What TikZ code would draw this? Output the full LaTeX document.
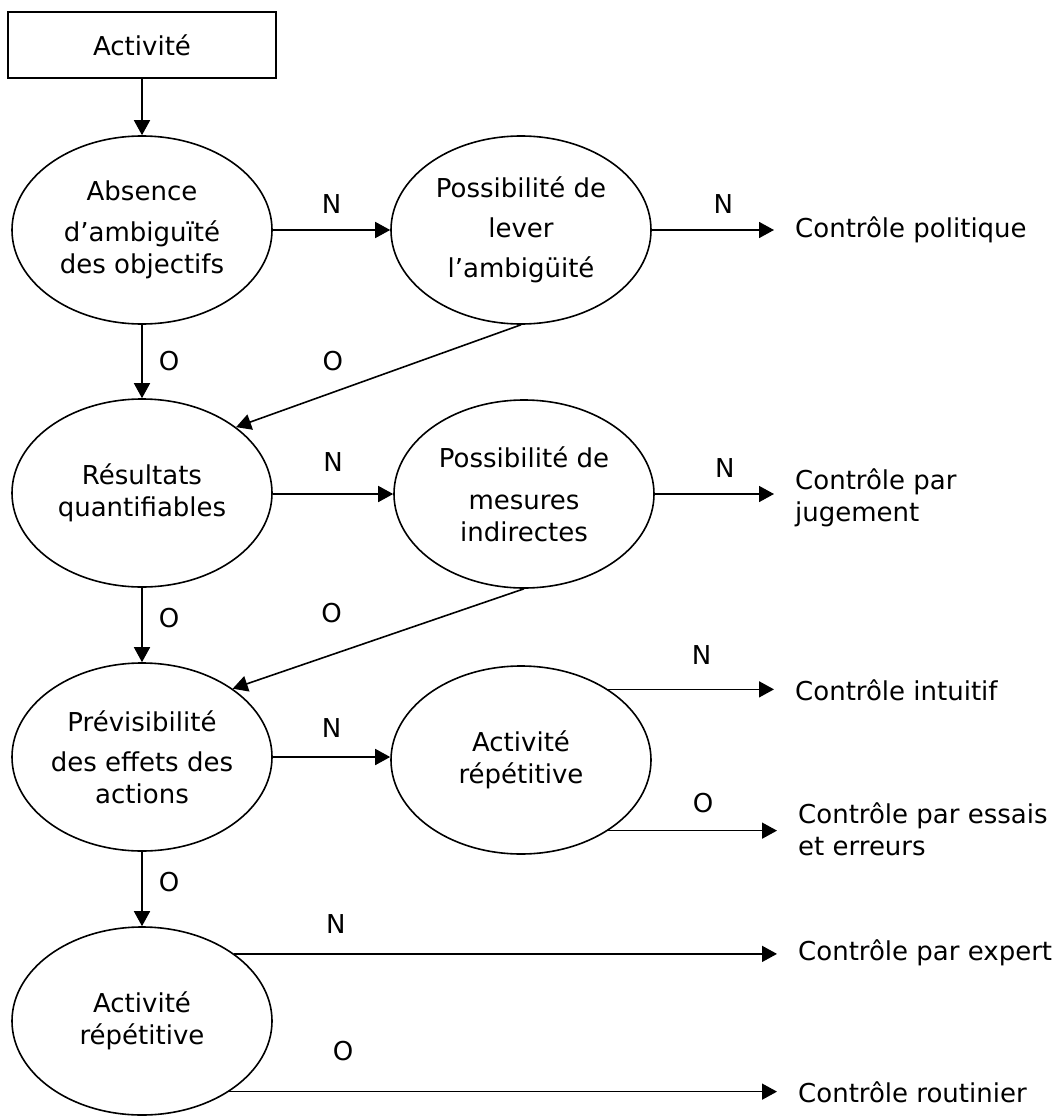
\documentclass[tikz,border=0pt]{standalone}
\usepackage{fontspec}
\setmainfont{DejaVu Sans}
\usetikzlibrary{arrows.meta}
\usetikzlibrary{shapes.geometric}

\tikzset{
	oval/.style={draw, ellipse, line width=1.6pt, minimum width=260pt, minimum height=188pt, inner sep=0pt, align=center},
	startbox/.style={draw, rectangle, line width=1.6pt, minimum width=268pt, minimum height=66pt},
	result/.style={anchor=west, inner sep=0pt, align=left},
	flow/.style={line width=1.6pt, -{Triangle[length=15pt,width=16pt]}},
	toresult/.style={flow, shorten >=21pt},
	answer/.style={inner sep=0pt}
}

\begin{document}
\begin{tikzpicture}[x=1pt, y=-1pt, every node/.style={font=\fontsize{26}{32}\selectfont}]
			\useasboundingbox (0,0) rectangle (1056,1116);
			% question column
			\node[startbox] (act) at (142,45) {Activité};
			\node[oval] (ambig) at (142,230) {Absence\\[9pt] d’ambiguïté\\ des objectifs};
			\node[oval] (quanti) at (142,493) {Résultats\\ quantifiables};
			\node[oval] (previs) at (142,757) {Prévisibilité\\[8pt] des effets des\\ actions};
			\node[oval] (routine) at (142,1021) {Activité\\ répétitive};
			% second column
			\node[oval] (lever) at (521,230) {Possibilité de\\[8pt] lever\\[8pt] l’ambigüité};
			\node[oval] (indirect) at (524,494) {Possibilité de\\[10pt] mesures\\ indirectes};
			\node[oval] (repet) at (521,760) {Activité\\ répétitive};
			% kinds of control
			\node[result] (politique) at (795,230) {Contrôle politique};
			\node[result] (jugement) at (795,498) {Contrôle par\\ jugement};
			\node[result] (intuitif) at (795,690) {Contrôle intuitif};
			\node[result] (essais) at (798,829) {Contrôle par essais\\ et erreurs};
			\node[result] (expert) at (798,953) {Contrôle par expert};
			\node[result] (routinier) at (798,1092) {Contrôle routinier};

			\draw[flow] (act.south) -- (ambig.north);
			\draw[flow] (ambig.south) -- node[answer, right=16pt] {O} (quanti.north);
			\draw[flow] (quanti.south) -- node[answer, pos=.4, right=16pt] {O} (previs.north);
			\draw[flow] (previs.south) -- node[answer, pos=.4, right=16pt] {O} (routine.north);

			\draw[flow] (ambig.east) -- node[answer, above=16pt] {N} (lever.west);
			\draw[flow] (quanti.east |- indirect.west) -- node[answer, above=22pt] {N} (indirect.west);
			\draw[flow] (previs.east -| previs.east) -- node[answer, above=19pt] {N} (previs.east -| repet.west);

			\draw[flow] (lever.south) -- node[answer, pos=.66, yshift=31pt] {O} (quanti.35);
			\draw[flow] (indirect.south) -- node[answer, pos=.66, yshift=42pt] {O} (previs.37);

			\draw[toresult] (lever.east) -- node[answer, above=16pt] {N} (lever.east -| politique.west);
			\draw[toresult] (indirect.east) -- node[answer, above=16pt] {N} (indirect.east -| jugement.west);
			\draw[toresult] (repet.39) -- node[answer, above=24pt] {N} (repet.39 -| intuitif.west);
			\draw[toresult] (repet.-39) -- node[answer, above=17pt] {O} (repet.-39 -| essais.west);
			\draw[toresult] (routine.36) -- node[answer, pos=.18, above=20pt] {N} (routine.36 -| expert.west);
			\draw[toresult] (routine.-39) -- node[answer, pos=.2, above=30pt] {O} (routine.-39 -| routinier.west);
		\end{tikzpicture}
\end{document}
